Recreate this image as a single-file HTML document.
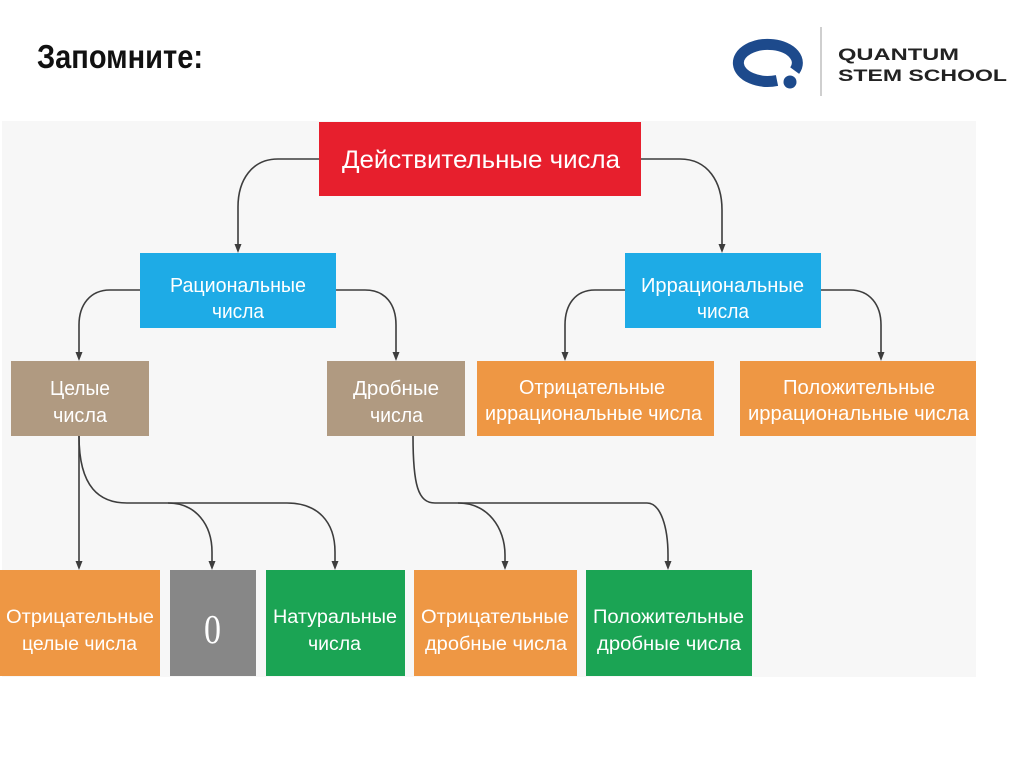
<!DOCTYPE html>
<html><head><meta charset="utf-8">
<style>
html,body{margin:0;padding:0;background:#fff;}
svg{display:block;}
text{font-family:"Liberation Sans","DejaVu Sans",sans-serif;}
</style></head>
<body>
<svg width="1024" height="767" viewBox="0 0 1024 767" xmlns="http://www.w3.org/2000/svg">
<rect x="0" y="0" width="1024" height="767" fill="#ffffff"/>
<!-- title -->
<text x="37" y="68" font-size="33" font-weight="bold" fill="#111" textLength="166" lengthAdjust="spacingAndGlyphs">Запомните:</text>
<!-- logo -->
<path d="M 794.7 70.6 A 29.5 18.5 0 1 0 777 80.5" fill="none" stroke="#1d4a8c" stroke-width="11"/>
<circle cx="790" cy="82" r="6.5" fill="#1d4a8c"/>
<rect x="820" y="27" width="2" height="69" fill="#cfcfcf"/>
<text x="838" y="60" font-size="17" font-weight="bold" fill="#222" textLength="121" lengthAdjust="spacingAndGlyphs">QUANTUM</text>
<text x="838" y="81" font-size="17" font-weight="bold" fill="#222" textLength="169" lengthAdjust="spacingAndGlyphs">STEM SCHOOL</text>

<!-- diagram background -->
<rect x="2" y="121" width="974" height="556" fill="#f7f7f7"/>

<!-- connectors -->
<g fill="none" stroke="#3d3d3d" stroke-width="1.6">
<path d="M319,159 H278 C252,159 238,180 238,207 V246"/>
<path d="M641,159 H680 C708,159 722,182 722,210 V246"/>
<path d="M140,290 H110 C90,290 79,305 79,325 V354"/>
<path d="M336,290 H365 C386,290 396,305 396,325 V354"/>
<path d="M625,290 H595 C575,290 565,305 565,325 V354"/>
<path d="M821,290 H850 C870,290 881,305 881,325 V354"/>
<path d="M79,436 V563"/>
<path d="M79,436 C79,488 100,503 127,503 H287 C318,503 335,522 335,552 V563"/>
<path d="M168,503 C196,503 212,525 212,552 V563"/>
<path d="M413,436 C413,485 418,503 435,503 H647 C661,503 668,528 668,555 V563"/>
<path d="M458,503 C488,503 505,528 505,555 V563"/>
</g>
<g fill="#3d3d3d">
<polygon points="234.5,244 241.5,244 238,253"/>
<polygon points="718.5,244 725.5,244 722,253"/>
<polygon points="75.5,352 82.5,352 79,361"/>
<polygon points="392.5,352 399.5,352 396,361"/>
<polygon points="561.5,352 568.5,352 565,361"/>
<polygon points="877.5,352 884.5,352 881,361"/>
<polygon points="75.5,561 82.5,561 79,570"/>
<polygon points="208.5,561 215.5,561 212,570"/>
<polygon points="331.5,561 338.5,561 335,570"/>
<polygon points="501.5,561 508.5,561 505,570"/>
<polygon points="664.5,561 671.5,561 668,570"/>
</g>

<!-- boxes -->
<rect x="319" y="122" width="322" height="74" fill="#e71f2d"/>
<rect x="140" y="253" width="196" height="75" fill="#1eabe6"/>
<rect x="625" y="253" width="196" height="75" fill="#1eabe6"/>
<rect x="11" y="361" width="138" height="75" fill="#b09a81"/>
<rect x="327" y="361" width="138" height="75" fill="#b09a81"/>
<rect x="477" y="361" width="237" height="75" fill="#ee9744"/>
<rect x="740" y="361" width="236" height="75" fill="#ee9744"/>
<rect x="0" y="570" width="160" height="106" fill="#ee9744"/>
<rect x="170" y="570" width="86" height="106" fill="#878787"/>
<rect x="266" y="570" width="139" height="106" fill="#1ba454"/>
<rect x="414" y="570" width="163" height="106" fill="#ee9744"/>
<rect x="586" y="570" width="166" height="106" fill="#1ba454"/>

<!-- labels -->
<g fill="#ffffff">
<text x="342" y="168" font-size="25" textLength="278" lengthAdjust="spacingAndGlyphs">Действительные числа</text>

<text x="170" y="292" font-size="20" textLength="136" lengthAdjust="spacingAndGlyphs">Рациональные</text>
<text x="212" y="318" font-size="20" textLength="52" lengthAdjust="spacingAndGlyphs">числа</text>

<text x="641" y="292" font-size="20" textLength="163" lengthAdjust="spacingAndGlyphs">Иррациональные</text>
<text x="697" y="318" font-size="20" textLength="52" lengthAdjust="spacingAndGlyphs">числа</text>

<text x="50" y="395" font-size="20" textLength="60" lengthAdjust="spacingAndGlyphs">Целые</text>
<text x="53" y="422" font-size="20" textLength="54" lengthAdjust="spacingAndGlyphs">числа</text>

<text x="353" y="395" font-size="20" textLength="86" lengthAdjust="spacingAndGlyphs">Дробные</text>
<text x="370" y="422" font-size="20" textLength="53" lengthAdjust="spacingAndGlyphs">числа</text>

<text x="519" y="394" font-size="20" textLength="146" lengthAdjust="spacingAndGlyphs">Отрицательные</text>
<text x="485" y="420" font-size="20" textLength="217" lengthAdjust="spacingAndGlyphs">иррациональные числа</text>

<text x="783" y="394" font-size="20" textLength="152" lengthAdjust="spacingAndGlyphs">Положительные</text>
<text x="748" y="420" font-size="20" textLength="221" lengthAdjust="spacingAndGlyphs">иррациональные числа</text>

<text x="6" y="623" font-size="19" textLength="148" lengthAdjust="spacingAndGlyphs">Отрицательные</text>
<text x="22" y="650" font-size="19" textLength="115" lengthAdjust="spacingAndGlyphs">целые числа</text>

<text x="204" y="643" font-size="41" style="font-family:'Liberation Serif',serif" textLength="17" lengthAdjust="spacingAndGlyphs">0</text>

<text x="273" y="623" font-size="19" textLength="124" lengthAdjust="spacingAndGlyphs">Натуральные</text>
<text x="308" y="650" font-size="19" textLength="53" lengthAdjust="spacingAndGlyphs">числа</text>

<text x="421" y="623" font-size="19" textLength="148" lengthAdjust="spacingAndGlyphs">Отрицательные</text>
<text x="425" y="650" font-size="19" textLength="142" lengthAdjust="spacingAndGlyphs">дробные числа</text>

<text x="593" y="623" font-size="19" textLength="151" lengthAdjust="spacingAndGlyphs">Положительные</text>
<text x="597" y="650" font-size="19" textLength="144" lengthAdjust="spacingAndGlyphs">дробные числа</text>
</g>
</svg>
</body></html>
